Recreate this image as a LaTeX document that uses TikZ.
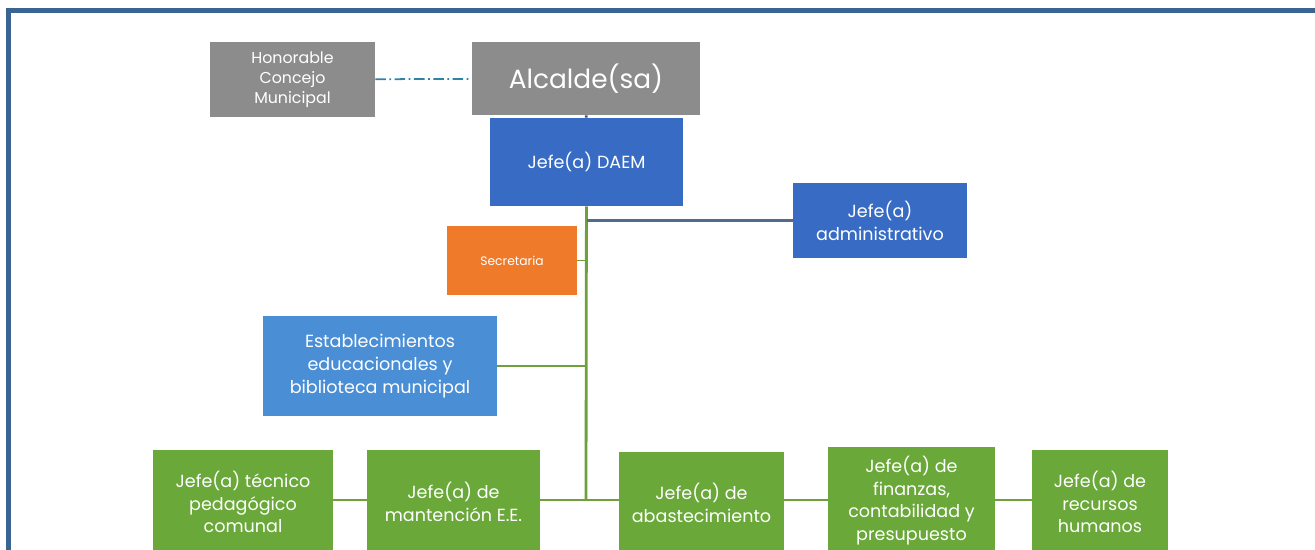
\documentclass[tikz,border=0pt]{standalone}
\usepackage{fontspec}
\setmainfont{Poppins}
\usepackage{tikz}
\usetikzlibrary{positioning}
\definecolor{grisbox}{RGB}{140,140,140}
\definecolor{azulbox}{RGB}{56,108,196}
\definecolor{celeste}{RGB}{74,142,214}
\definecolor{naranja}{RGB}{238,122,42}
\definecolor{verdebox}{RGB}{106,168,58}
\definecolor{verdelin}{RGB}{110,160,60}
\definecolor{marco}{RGB}{58,100,145}
\tikzset{box/.style={rectangle,text=white,align=center,inner sep=2pt,font=\fontsize{10}{13}\selectfont}}
\tikzset{rama/.style={verdelin,line width=1.6pt}}
\begin{document}
\begin{tikzpicture}[x=0.02cm,y=-0.02cm]
        \useasboundingbox (0,0) rectangle (1315,550);
        % marco
        \draw[marco,line width=3pt] (8.5,550) -- (8.5,10.5) -- (1315,10.5);
        % cajas
        \node[box,fill=grisbox,minimum width=3.3cm,minimum height=1.5cm,font=\fontsize{9}{11.5}\selectfont] (hcm) at (292.5,79.5) {Honorable\\Concejo\\Municipal};
        \node[box,fill=grisbox,minimum width=4.56cm,minimum height=1.46cm,font=\fontsize{15}{18}\selectfont] (alc) at (586,78.5) {Alcalde(sa)};
        \node[box,fill=azulbox,minimum width=3.86cm,minimum height=1.76cm] (daem) at (586.5,162) {Jefe(a) DAEM};
        \node[box,fill=azulbox,minimum width=3.48cm,minimum height=1.5cm] (adm) at (880,220.5) {Jefe(a)\\administrativo};
        \node[box,fill=naranja,minimum width=2.6cm,minimum height=1.38cm,font=\fontsize{7}{9}\selectfont] (sec) at (512,260.5) {Secretaria};
        \node[box,fill=celeste,minimum width=4.68cm,minimum height=2cm] (est) at (380,366) {Establecimientos\\educacionales y\\biblioteca municipal};
        \node[box,fill=verdebox,minimum width=3.6cm,minimum height=2.1cm] (tec) at (243,502) {Jefe(a) técnico\\pedagógico\\comunal};
        \node[box,fill=verdebox,minimum width=3.46cm,minimum height=2.1cm] (man) at (453.5,502) {Jefe(a) de\\mantención E.E.};
        \node[box,fill=verdebox,minimum width=3.3cm,minimum height=2.06cm] (abs) at (701.5,503) {Jefe(a) de\\abastecimiento};
        \node[box,fill=verdebox,minimum width=3.34cm,minimum height=2.16cm] (fin) at (911.5,500.5) {Jefe(a) de\\finanzas,\\contabilidad y\\presupuesto};
        \node[box,fill=verdebox,minimum width=2.72cm,minimum height=2.1cm] (rrh) at (1100,502) {Jefe(a) de\\recursos\\humanos};
        % uniones
        \coordinate (tronco) at (586,500);
        \draw[marco!80!cyan,line width=1pt,dash pattern=on 6pt off 2pt on 1pt off 2pt] (hcm) -- (alc);
        \draw[azulbox!80!black,line width=1.6pt] (alc) -- (daem);
        \draw[rama] (daem) -- (tronco);
        \draw[marco!70!gray,line width=1.2pt] (daem.south |- adm.west) -- (adm);
        \draw[rama,line width=0.8pt] (sec) -- (daem.south |- sec.east);
        \draw[rama] (est) -- (daem.south |- est.east);
        \draw[rama] (man.east |- tronco) -- (tronco) -- (abs.west |- tronco);
        \draw[rama] (tec.east |- tronco) -- (man.west |- tronco);
        \draw[rama] (abs.east |- tronco) -- (fin.west |- tronco);
        \draw[rama] (fin.east |- tronco) -- (rrh.west |- tronco);
\end{tikzpicture}
\end{document}
